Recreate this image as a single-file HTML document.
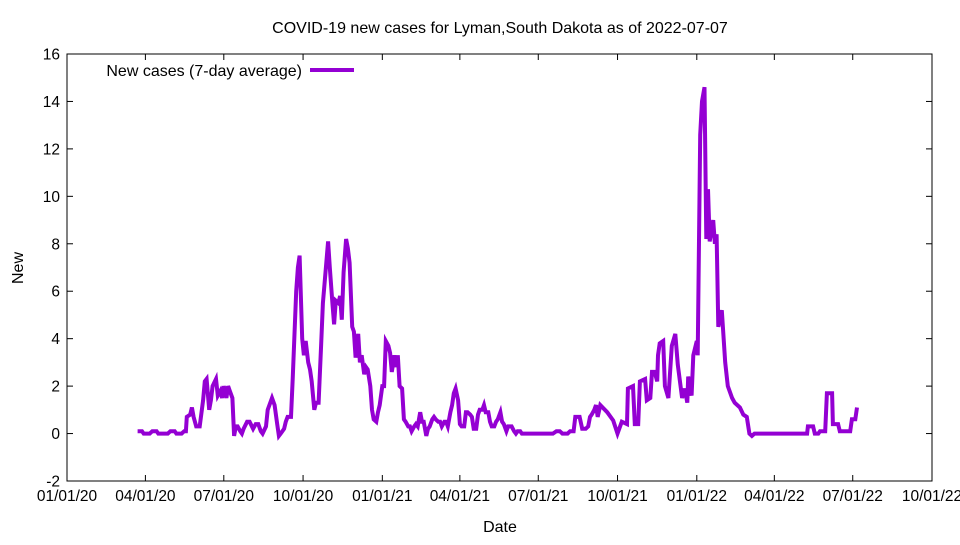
<!DOCTYPE html>
<html><head><meta charset="utf-8"><style>
body{margin:0;background:#fff}
svg text{font-family:"Liberation Sans",sans-serif;font-size:16px;fill:#000}
svg text.tick{font-size:15.5px}
</style></head><body>
<svg id="chart" width="960" height="540" xmlns="http://www.w3.org/2000/svg">
<rect width="960" height="540" fill="#fff"/>
<text x="500" y="33" text-anchor="middle">COVID-19 new cases for Lyman,South Dakota as of 2022-07-07</text>
<text transform="translate(23,268) rotate(-90)" text-anchor="middle">New</text>
<text x="500" y="532" text-anchor="middle">Date</text>
<g id="axes"></g>
<rect x="67" y="54" width="865" height="427" fill="none" stroke="#000" stroke-width="1"/>
<g id="series"></g>
<g>
<text x="302" y="76" text-anchor="end">New cases (7-day average)</text>
<line x1="310" y1="70" x2="354" y2="70" stroke="#9400d3" stroke-width="4"/>
</g>
</svg>
<script>
// days since 2020-01-01
const days=[82,87,89,96,99,104,106,117,120,125,127,133,136,138,139,143,145,147,150,154,158,160,162,165,167,169,173,175,178,180,182,185,187,189,192,194,196,198,201,203,205,209,212,216,219,222,225,227,231,233,238,241,244,246,248,252,254,256,260,262,266,268,270,273,275,277,280,282,284,287,289,292,295,297,301,303,305,308,310,312,315,317,319,321,324,326,328,331,333,335,338,340,342,345,347,349,352,354,356,359,361,363,366,368,370,373,375,377,380,382,384,386,389,391,393,396,398,400,403,405,407,410,412,414,417,419,421,424,426,428,431,433,435,438,440,442,445,447,449,451,454,456,458,461,463,465,468,470,472,475,477,479,482,484,486,489,491,493,496,498,500,503,505,507,510,512,516,519,521,523,526,528,564,568,572,575,581,584,588,590,595,598,602,605,607,609,612,614,616,619,627,634,639,644,650,651,657,659,663,665,671,673,677,679,682,685,686,688,692,694,698,702,706,709,714,717,720,721,725,727,731,732,735,737,740,742,744,746,750,752,754,756,760,764,767,772,775,781,785,789,792,795,798,859,860,866,868,872,874,880,882,888,889,895,897,909,911,915,917];
const values=[0.1,0.1,0,0,0.1,0.1,0,0,0.1,0.1,0,0,0.1,0.1,0.7,0.8,1.1,0.7,0.3,0.3,1.4,2.2,2.3,1.0,1.4,2.0,2.3,1.6,1.8,1.5,2.0,1.5,2.0,1.8,1.5,-0.1,0.3,0.3,0.1,0,0.2,0.5,0.5,0.2,0.4,0.4,0.1,0,0.3,1.0,1.5,1.2,0.4,-0.1,0,0.2,0.5,0.7,0.7,2.3,6.0,7.0,7.5,4.0,3.3,3.9,3.0,2.7,2.2,1.0,1.3,1.3,3.8,5.5,7.2,8.1,7.0,5.5,4.6,5.6,5.5,5.8,4.8,6.8,8.2,7.8,7.2,4.5,4.3,3.2,4.2,3.0,3.3,2.5,2.8,2.7,2.0,1.0,0.6,0.5,0.9,1.2,2.0,2.0,3.9,3.7,3.4,2.6,3.3,2.8,3.3,2.0,1.9,0.6,0.5,0.3,0.3,0.1,0.3,0.4,0.3,0.9,0.5,0.5,-0.1,0.2,0.3,0.6,0.7,0.6,0.5,0.5,0.3,0.5,0.5,0.3,0.9,1.2,1.7,1.9,1.4,0.4,0.3,0.3,0.9,0.9,0.8,0.7,0.2,0.2,0.8,1.0,1.0,1.2,0.9,0.9,0.5,0.3,0.3,0.5,0.6,0.9,0.5,0.4,0.1,0.3,0.3,0.1,0,0.1,0.1,0,0,0.1,0.1,0,0,0.1,0.1,0.7,0.7,0.2,0.2,0.3,0.7,0.8,1.0,1.2,0.7,1.2,0.9,0.55,0.0,0.5,0.4,1.9,2.0,0.4,0.4,2.2,2.3,1.4,1.5,2.6,2.6,2.2,3.3,3.8,3.9,2.0,1.5,3.7,4.2,2.9,1.5,1.9,1.3,2.4,1.6,3.3,3.9,3.3,12.6,14.0,14.6,8.2,10.3,8.1,9.0,8.0,8.4,4.5,5.2,3.0,2.0,1.5,1.3,1.1,0.8,0.7,0.0,-0.1,0,0,0.3,0.3,0,0,0.1,0.1,1.7,1.7,0.4,0.4,0.1,0.1,0.6,0.6,1.1];
const yTicks=[-2,0,2,4,6,8,10,12,14,16];
const xTickDays=[0,91,182,274,366,456,547,639,731,821,912,1004];
const xTickLabels=["01/01/20","04/01/20","07/01/20","10/01/20","01/01/21","04/01/21","07/01/21","10/01/21","01/01/22","04/01/22","07/01/22","10/01/22"];

const NS="http://www.w3.org/2000/svg";
const L=67,R=932,T=54,B=481;
const xs=d=>L+(d-0)/(1004-0)*(R-L);
const ys=v=>B-(v-(-2))/(16-(-2))*(B-T);
const axes=document.getElementById('axes');
function mk(tag,attrs,parent){const e=document.createElementNS(NS,tag);for(const k in attrs)e.setAttribute(k,attrs[k]);parent.appendChild(e);return e;}
yTicks.forEach(v=>{
  const y=ys(v);
  const t=mk('line',{x1:L,y1:y,x2:L+6,y2:y,stroke:'#000'},axes);
  
  
  const t2=mk('line',{x1:R-6,y1:y,x2:R,y2:y,stroke:'#000'},axes);
  
  
  const tx=mk('text',{x:L-7,y:y+5.5,'text-anchor':'end','class':'tick'},axes);
  tx.textContent=v;
  
  
});
xTickDays.forEach((d,i)=>{
  const x=xs(d);
  const t=mk('line',{x1:x,y1:B,x2:x,y2:B-6,stroke:'#000'},axes);
  
  
  const t2=mk('line',{x1:x,y1:T,x2:x,y2:T+6,stroke:'#000'},axes);
  
  
  const tx=mk('text',{x:x,y:B+20,'text-anchor':'middle','class':'tick'},axes);
  tx.textContent=xTickLabels[i];
  
  
});
const pts=days.map((d,i)=>xs(d).toFixed(1)+','+ys(values[i]).toFixed(1)).join(' ');
const line=mk('polyline',{points:pts,fill:'none',stroke:'#9400d3','stroke-width':4,'stroke-linejoin':'miter'},document.getElementById('series'));


</script>
</body></html>
